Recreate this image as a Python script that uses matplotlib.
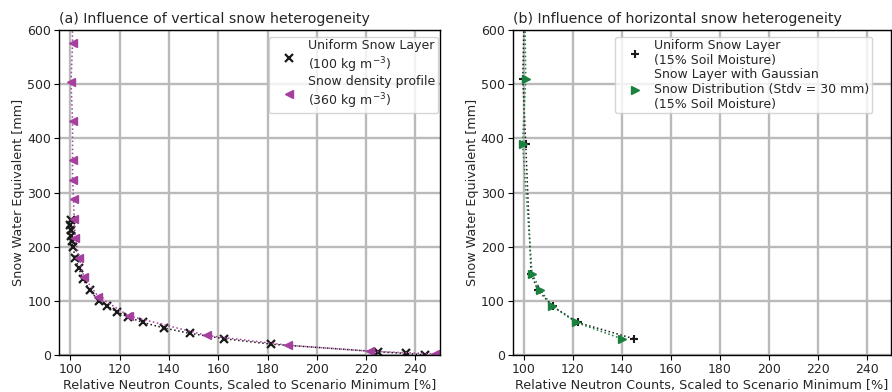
import matplotlib
matplotlib.use("Agg")
import matplotlib.pyplot as plt
from matplotlib.lines import Line2D

# ---- data ----
# (a) vertical heterogeneity
uni_a_swe = [250, 240, 230, 220, 210, 200, 180, 160, 140, 120, 100, 90, 80, 70, 60, 50, 40, 30, 20, 6, 3, 0]
uni_a_cnt = [100.2, 99.9, 100.4, 100.1, 100.6, 101.0, 102.0, 103.4, 105.2, 107.8, 111.5, 115.0, 118.8,
             123.5, 129.5, 137.9, 148.4, 162.4, 181.5, 225.0, 236.0, 244.0]
prof_swe = [650, 576, 504, 432, 360, 324, 288, 252, 216, 180, 144, 108, 72, 36, 18, 7, 2]
prof_cnt = [100.7, 100.9, 100.3, 100.9, 100.9, 100.9, 101.3, 101.5, 102.0, 103.5, 105.5, 111.3,
            123.8, 155.5, 188.5, 221.5, 248.0]

# (b) horizontal heterogeneity
uni_b_swe = [700, 510, 390, 150, 120, 90, 60, 30]
uni_b_cnt = [100.5, 99.6, 100.8, 103.0, 105.7, 111.8, 122.0, 145.0]
gau_swe = [700, 510, 390, 150, 120, 90, 60, 30]
gau_cnt = [100.3, 100.8, 99.5, 103.4, 106.8, 111.6, 121.5, 140.0]

xticks = [100, 120, 140, 160, 180, 200, 220, 240]
yticks = [0, 100, 200, 300, 400, 500, 600]

MAG = "#a6409f"
GRN = "#1b8040"
TXT = "#262626"

plt.rcParams["font.family"] = ["DejaVu Sans"]
plt.rcParams["text.color"] = TXT
plt.rcParams["axes.labelcolor"] = TXT
plt.rcParams["xtick.color"] = TXT
plt.rcParams["ytick.color"] = TXT

fig = plt.figure(figsize=(8.92, 3.92), dpi=100)
ax1 = fig.add_axes([0.0667, 0.0944, 0.4266, 0.829])
ax2 = fig.add_axes([0.5751, 0.0944, 0.4238, 0.829])


def style(ax, title):
    ax.set_xlim(95.6, 250)
    ax.set_ylim(0, 600)
    ax.set_xticks(xticks)
    ax.set_yticks(yticks)
    ax.grid(True, color="#bababa", lw=1.7)
    ax.set_axisbelow(True)
    for s in ax.spines.values():
        s.set_color("black")
        s.set_linewidth(1.0)
    ax.tick_params(axis="both", labelsize=9, direction="out", length=3.5, width=0.8,
                   colors="black", labelcolor=TXT, top=False, right=False, pad=2.5)
    ax.set_xlabel("Relative Neutron Counts, Scaled to Scenario Minimum [%]", fontsize=9.2, labelpad=2)
    ax.set_ylabel("Snow Water Equivalent [mm]", fontsize=9.2, labelpad=1.5)
    ax.set_title(title, fontsize=10.2, loc="left", pad=5)


leg_kw = dict(fontsize=9, frameon=True, framealpha=0.8, edgecolor="#cccccc",
              borderpad=0.2, labelspacing=0.05, handlelength=2.8, handletextpad=0.15,
              borderaxespad=0.0, loc="upper right")

# panel a
ax1.plot(uni_a_cnt, uni_a_swe, ls=":", color="#1a1a1a", lw=1.1, marker="x", ms=5.5, mew=1.6)
ax1.plot(prof_cnt, prof_swe, ls=":", color=MAG, lw=1.1, marker="<", ms=6)
style(ax1, "(a) Influence of vertical snow heterogeneity")
h1 = [Line2D([], [], ls="none", marker="x", color="#1a1a1a", ms=5.5, mew=1.6),
      Line2D([], [], ls="none", marker="<", color=MAG, ms=6)]
ax1.legend(h1, ["Uniform Snow Layer\n(100 kg m$^{-3}$)", "Snow density profile\n(360 kg m$^{-3}$)"],
           bbox_to_anchor=(0.995, 0.979), **leg_kw)

# panel b
ax2.plot(uni_b_cnt, uni_b_swe, ls=":", color="#1a1a1a", lw=1.1, marker="+", ms=6, mew=1.5)
ax2.plot(gau_cnt, gau_swe, ls=":", color=GRN, lw=1.1, marker=">", ms=6)
style(ax2, "(b) Influence of horizontal snow heterogeneity")
h2 = [Line2D([], [], ls="none", marker="+", color="#1a1a1a", ms=6, mew=1.5),
      Line2D([], [], ls="none", marker=">", color=GRN, ms=6)]
kw2 = dict(leg_kw)
kw2["loc"] = "upper left"
ax2.legend(h2, ["Uniform Snow Layer\n(15% Soil Moisture)",
                "Snow Layer with Gaussian\nSnow Distribution (Stdv = 30 mm)\n(15% Soil Moisture)"],
           bbox_to_anchor=(0.27, 0.979), **kw2)

fig.savefig("out.png", dpi=100)
